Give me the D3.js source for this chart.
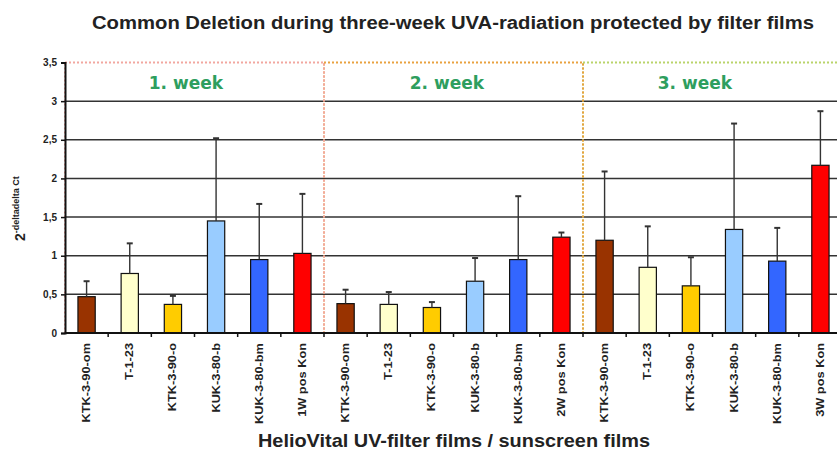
<!DOCTYPE html>
<html>
<head>
<meta charset="utf-8">
<script src="https://cdn.jsdelivr.net/npm/d3@7"></script>
<style>
  html, body { margin: 0; padding: 0; background: #fff; }
  svg { display: block; font-family: "Liberation Sans", Arial, sans-serif; }
</style>
</head>
<body>
<div id="chart"></div>
<script>
// data
const labels = [
  'KTK-3-90-om', 'T-1-23', 'KTK-3-90-o', 'KUK-3-80-b', 'KUK-3-80-bm', '1W pos Kon',
  'KTK-3-90-om', 'T-1-23', 'KTK-3-90-o', 'KUK-3-80-b', 'KUK-3-80-bm', '2W pos Kon',
  'KTK-3-90-om', 'T-1-23', 'KTK-3-90-o', 'KUK-3-80-b', 'KUK-3-80-bm', '3W pos Kon'
];
const means = [
  0.47, 0.77, 0.37, 1.45, 0.95, 1.03,
  0.38, 0.37, 0.33, 0.67, 0.95, 1.24,
  1.20, 0.85, 0.61, 1.34, 0.93, 2.17
];
const errTop = [
  0.67, 1.16, 0.48, 2.52, 1.67, 1.80,
  0.56, 0.53, 0.40, 0.97, 1.77, 1.30,
  2.09, 1.38, 0.98, 2.71, 1.36, 2.87
];
const weeks = ['1. week', '2. week', '3. week'];
const yTicks = [0, 0.5, 1, 1.5, 2, 2.5, 3, 3.5];

const filmColors = ['#993300', '#FFFFCC', '#FFCC00', '#99CCFF', '#3366FF', '#FF0000'];
const weekColors = ['#F2A7A0', '#E9A13F', '#B9D46A'];

const width = 837, height = 451;
const plotLeft = 65, plotRight = 842, plotTop = 62.5, plotBottom = 333;

const svg = d3.select('#chart').append('svg')
  .attr('width', width)
  .attr('height', height);

const x = d3.scaleBand()
  .domain(d3.range(labels.length))
  .range([plotLeft, plotRight])
  .paddingInner(0.6)
  .paddingOuter(0.3);
const step = x.step();
const xc = i => x(i) + x.bandwidth() / 2;

const y = d3.scaleLinear().domain([0, 3.5]).range([plotBottom, plotTop]);

// title
svg.append('text')
  .attr('x', 453).attr('y', 29)
  .attr('text-anchor', 'middle')
  .attr('textLength', 722).attr('lengthAdjust', 'spacingAndGlyphs')
  .style('font-size', '18px').style('font-weight', 'bold').style('fill', '#222')
  .text('Common Deletion during three-week UVA-radiation protected by filter films');

// gridlines
svg.append('g')
  .selectAll('line')
  .data(yTicks.filter(t => t > 0 && t < 3.5))
  .join('line')
  .attr('x1', plotLeft).attr('x2', plotRight)
  .attr('y1', d => y(d)).attr('y2', d => y(d))
  .style('stroke', '#333').style('stroke-width', 1.5);

// week boxes (dotted), drawn last-first so left weeks' edges sit on top
const weekIdx = d3.range(weeks.length).reverse();
svg.append('g')
  .selectAll('rect')
  .data(weekIdx)
  .join('rect')
  .attr('x', i => plotLeft + i * 6 * step)
  .attr('y', y(3.5))
  .attr('width', 6 * step)
  .attr('height', y(0) - y(3.5))
  .style('fill', 'none')
  .style('stroke', i => weekColors[i])
  .style('stroke-width', 2)
  .style('stroke-dasharray', '2,2');

// week labels
const weekLabelX = [xc(2) + 13, xc(8) + 15, xc(14) + 4];
svg.append('g')
  .selectAll('text')
  .data(weeks)
  .join('text')
  .attr('x', (d, i) => weekLabelX[i])
  .attr('y', 89)
  .attr('text-anchor', 'middle')
  .style('font-size', '17px').style('font-weight', 'bold')
  .style('font-family', '"DejaVu Sans", sans-serif')
  .style('fill', '#2E9E5E')
  .text(d => d);

// bars
svg.append('g')
  .selectAll('rect')
  .data(means)
  .join('rect')
  .attr('x', (d, i) => x(i))
  .attr('y', d => y(d))
  .attr('width', x.bandwidth())
  .attr('height', d => y(0) - y(d))
  .style('fill', (d, i) => filmColors[i % 6])
  .style('stroke', '#111')
  .style('stroke-width', 1.2);

// error bars
const err = svg.append('g').style('stroke', '#333').style('stroke-width', 1.4);
err.selectAll('line.v')
  .data(errTop)
  .join('line').attr('class', 'v')
  .attr('x1', (d, i) => xc(i)).attr('x2', (d, i) => xc(i))
  .attr('y1', (d, i) => y(means[i])).attr('y2', d => y(d));
err.selectAll('line.c')
  .data(errTop)
  .join('line').attr('class', 'c')
  .attr('x1', (d, i) => xc(i) - 3).attr('x2', (d, i) => xc(i) + 3)
  .attr('y1', d => y(d)).attr('y2', d => y(d))
  .style('stroke-width', 2);

// y axis
const yAxis = svg.append('g')
  .attr('transform', `translate(${plotLeft},0)`)
  .call(d3.axisLeft(y).tickValues(yTicks).tickSize(4).tickPadding(4)
    .tickFormat(d => String(d).replace('.', ',')));
yAxis.select('.domain').style('stroke', '#111').style('stroke-width', 2);
yAxis.selectAll('.tick line').style('stroke', '#111').style('stroke-width', 1.5);
yAxis.selectAll('.tick text')
  .style('font-size', '10px').style('font-weight', 'bold').style('fill', '#222')
  .style('font-family', '"Liberation Sans", Arial, sans-serif');

// x axis line + boundary ticks
svg.append('line')
  .attr('x1', plotLeft).attr('x2', plotRight)
  .attr('y1', y(0)).attr('y2', y(0))
  .style('stroke', '#111').style('stroke-width', 2);
svg.append('g')
  .selectAll('line')
  .data(d3.range(1, labels.length))
  .join('line')
  .attr('x1', i => plotLeft + i * step).attr('x2', i => plotLeft + i * step)
  .attr('y1', y(0)).attr('y2', y(0) + 4)
  .style('stroke', '#111').style('stroke-width', 1.5);

// category labels
svg.append('g')
  .selectAll('text')
  .data(labels)
  .join('text')
  .attr('transform', (d, i) => `translate(${xc(i)},343) rotate(-90) scale(1.28,1)`)
  .attr('text-anchor', 'end')
  .attr('dy', '0.35em')
  .style('font-size', '10px').style('font-weight', 'bold').style('fill', '#222')
  .text(d => d);

// x axis title
svg.append('text')
  .attr('x', 454).attr('y', 447)
  .attr('text-anchor', 'middle')
  .attr('textLength', 392).attr('lengthAdjust', 'spacingAndGlyphs')
  .style('font-size', '19px').style('font-weight', 'bold').style('fill', '#222')
  .text('HelioVital UV-filter films / sunscreen films');

// y axis title
const yt = svg.append('text')
  .attr('transform', 'translate(25,241) rotate(-90)')
  .style('font-weight', 'bold').style('fill', '#222');
yt.append('tspan').style('font-size', '14px').text('2');
yt.append('tspan').attr('dy', -6).style('font-size', '9px').text('-deltadelta Ct');
</script>
</body>
</html>
